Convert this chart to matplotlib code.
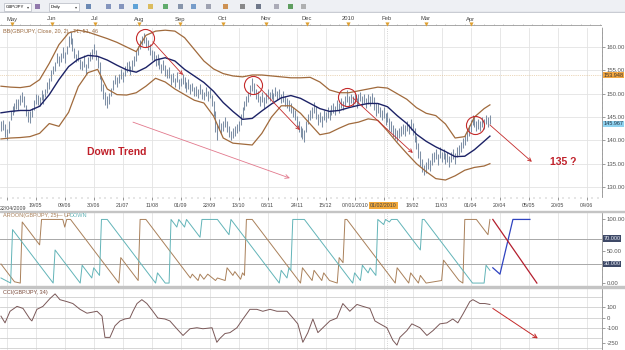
import matplotlib.pyplot as plt
from matplotlib.patches import Rectangle

plt.rcParams['font.family'] = ['Liberation Sans', 'DejaVu Sans']

# ---- values (x = bar number, 0 = first daily bar) ----
highs = [
    144.2, 144.3, 143.5, 142.5, 144.2, 146.3, 147.4, 148.1, 148.9, 148.8,
    149.7, 150.3, 149.5, 147.5, 146.2, 146.3, 146.9, 148.6, 149.9, 149.8,
    149.2, 150.8, 149.9, 151.1, 152.4, 153.3, 155.1, 156.0, 156.7, 158.8,
    158.1, 158.8, 159.9, 159.0, 160.2, 162.3, 163.3, 161.9, 159.8, 158.6,
    159.3, 157.4, 157.1, 158.2, 156.3, 157.8, 158.9, 159.6, 160.6, 159.3,
    158.1, 156.8, 153.7, 152.1, 150.3, 149.6, 150.2, 151.3, 153.0, 154.1,
    153.6, 154.3, 155.2, 154.6, 155.9, 156.8, 157.1, 156.0, 157.3, 158.0,
    159.2, 160.3, 161.6, 162.4, 163.1, 162.2, 161.4, 160.6, 159.4, 159.1,
    158.2, 158.4, 157.6, 156.4, 157.2, 156.1, 155.3, 155.7, 154.2, 154.4,
    153.4, 154.6, 153.1, 153.3, 154.2, 153.5, 152.4, 153.1, 152.0, 152.3,
    151.4, 151.6, 151.0, 152.0, 151.1, 150.3, 151.5, 150.5, 150.9, 149.7,
    148.5, 146.2, 143.5, 144.6, 143.8, 144.1, 145.0, 144.2, 143.1, 142.0,
    142.6, 143.1, 143.4, 144.2, 145.6, 147.1, 148.4, 149.6, 150.4, 151.8,
    153.4, 152.3, 151.0, 150.6, 149.6, 150.4, 149.2, 150.1, 151.0, 150.4,
    151.0, 150.1, 151.4, 150.6, 151.1, 150.0, 150.5, 149.6, 149.0, 148.6,
    148.1, 147.2, 146.4, 145.3, 144.2, 143.1, 142.6, 142.3, 144.2, 145.6,
    146.6, 147.2, 148.2, 147.3, 145.6, 146.0, 145.2, 146.5, 146.1, 147.1,
    146.5, 147.6, 148.1, 147.4, 148.6, 148.0, 149.1, 148.4, 149.6, 150.8,
    149.6, 150.0, 149.5, 150.1, 149.1, 150.0, 150.4, 149.6, 150.0, 149.1,
    150.0, 149.6, 150.1, 149.2, 147.9, 148.1, 147.2, 146.6, 147.1, 145.8,
    146.1, 144.8, 144.1, 143.2, 142.6, 142.3, 142.6, 143.1, 143.6, 143.2,
    144.1, 143.6, 144.6, 143.7, 142.6, 141.0, 139.4, 137.8, 136.0, 134.8,
    135.3, 136.2, 135.7, 137.2, 137.6, 138.2, 137.1, 138.6, 137.6, 138.1,
    137.2, 137.5, 136.7, 137.6, 138.1, 137.2, 138.6, 139.1, 139.7, 140.6,
    141.2, 142.1, 143.2, 144.3, 145.5, 145.2, 144.1, 144.6, 144.1, 145.1,
    144.6, 145.4, 145.1, 145.5,
]
lows = [
    142.1, 142.2, 140.8, 140.0, 141.5, 144.3, 145.4, 146.0, 146.7, 146.6,
    147.6, 148.2, 147.2, 145.3, 144.0, 143.8, 145.0, 146.4, 147.7, 147.6,
    147.4, 148.6, 147.8, 149.3, 150.2, 151.0, 152.8, 154.2, 154.8, 156.5,
    155.9, 156.7, 157.6, 156.6, 158.4, 160.1, 160.6, 159.2, 157.6, 156.8,
    157.1, 155.2, 155.0, 155.8, 154.3, 155.6, 156.9, 157.4, 158.6, 157.3,
    155.4, 153.2, 150.6, 148.9, 147.6, 147.0, 147.7, 149.4, 150.8, 152.0,
    151.4, 152.2, 153.1, 152.4, 153.8, 154.6, 154.8, 154.1, 155.0, 155.9,
    157.1, 158.2, 159.5, 160.4, 160.8, 159.9, 159.3, 158.2, 157.3, 156.9,
    156.0, 156.2, 155.3, 154.4, 155.1, 153.8, 153.4, 153.3, 151.9, 152.5,
    151.4, 152.4, 150.9, 151.6, 152.0, 151.3, 150.4, 151.0, 149.9, 150.6,
    149.6, 149.5, 149.1, 150.0, 148.8, 148.6, 149.5, 148.4, 149.0, 147.4,
    145.2, 141.8, 140.0, 142.3, 141.3, 142.0, 142.8, 141.7, 140.8, 140.0,
    140.4, 141.0, 141.5, 142.0, 143.2, 144.8, 146.4, 147.4, 148.3, 149.4,
    150.6, 149.9, 148.9, 148.3, 147.4, 148.3, 147.0, 147.9, 148.9, 148.4,
    148.9, 147.9, 149.4, 148.6, 149.0, 148.0, 148.3, 147.4, 146.9, 146.3,
    145.9, 144.9, 144.3, 142.8, 141.8, 140.8, 140.2, 139.6, 141.7, 143.4,
    144.4, 144.8, 145.9, 144.6, 143.2, 143.9, 142.9, 144.3, 143.9, 144.8,
    144.4, 145.5, 145.9, 145.4, 146.5, 145.9, 146.9, 146.5, 147.4, 148.3,
    147.4, 147.9, 147.4, 148.0, 146.9, 147.8, 148.4, 147.4, 147.9, 146.9,
    147.8, 147.4, 147.9, 146.4, 145.3, 145.8, 144.9, 144.3, 144.8, 143.3,
    143.9, 142.3, 141.8, 140.7, 140.3, 139.8, 140.4, 140.9, 141.4, 140.9,
    141.9, 141.4, 142.3, 141.2, 139.7, 138.2, 136.3, 134.6, 133.2, 132.5,
    132.9, 133.8, 133.4, 134.7, 135.3, 135.9, 134.8, 136.3, 135.4, 135.9,
    134.9, 135.4, 134.3, 135.4, 135.9, 134.9, 136.4, 136.9, 137.4, 138.4,
    138.9, 139.9, 140.9, 141.8, 143.2, 142.8, 141.9, 142.4, 141.9, 142.9,
    142.4, 143.4, 142.9, 143.5,
]

# Bollinger band (20, 2) read every 5 bars
bb_x = list(range(0, 251, 5)) + [253]
bb_upper = [151.6, 151.4, 151.3, 151.6, 153.0, 156.5, 160.5, 163.0, 163.6, 163.2,
            162.5, 161.8, 161.0, 160.0, 159.0, 162.5, 163.4, 163.6, 163.4, 162.0,
            159.5, 157.0, 155.3, 154.3, 153.8, 153.6, 154.0, 154.0, 153.8, 153.6,
            153.4, 153.4, 153.5, 152.5, 150.8, 150.2, 150.2, 150.6, 151.0, 151.4,
            151.2, 150.0, 148.8, 147.0, 145.8, 145.3, 143.5, 140.5, 140.8, 145.0,
            146.8, 147.6]
bb_middle = [145.9, 146.2, 146.4, 146.4, 147.3, 149.8, 153.0, 155.8, 157.4, 158.2,
             158.0, 157.2, 156.1, 155.1, 154.6, 155.6, 157.2, 157.7, 157.0, 155.2,
             153.8, 152.4, 150.5, 148.1, 146.2, 144.5, 144.7, 146.3, 147.8, 149.1,
             149.6, 149.0, 147.9, 146.8, 146.2, 146.4, 147.0, 147.5, 147.9, 147.9,
             147.2, 145.3, 143.6, 141.3, 139.8, 138.6, 137.6, 136.5, 136.6, 138.0,
             139.8, 140.9]
bb_lower = [140.3, 140.5, 140.6, 140.8, 141.5, 143.6, 143.0, 146.0, 151.5, 154.5,
            155.2, 151.0, 149.8, 149.7, 150.2, 151.6, 153.3, 152.5, 151.0, 149.8,
            148.6, 148.0, 145.2, 140.5, 139.4, 139.2, 139.0, 141.5, 145.0, 147.4,
            147.4, 145.8, 143.5, 141.2, 141.6, 142.6, 143.5, 143.9, 144.6, 144.3,
            142.0, 139.5, 137.2, 135.0, 133.3, 131.8, 131.5, 132.4, 133.6, 134.2,
            134.5, 135.0]

# Aroon(25) turning points
aroon_up_x = [0, 7, 10, 11, 20, 21, 32, 33, 34, 36, 61, 62, 71, 72, 75, 98, 99, 102, 103,
              105, 107, 111, 112, 116, 117, 120, 121, 124, 125, 126, 127, 130, 155, 156,
              161, 162, 166, 167, 170, 174, 175, 177, 178, 179, 204, 205, 211, 212, 216,
              217, 220, 228, 229, 237, 239, 240, 246, 252, 253]
aroon_up_y = [30, 2, 0, 96, 60, 100, 100, 88, 100, 100, 0, 40, 4, 100, 100, 8, 14, 4, 14,
              6, 14, 4, 8, 4, 24, 12, 18, 6, 16, 12, 100, 100, 0, 24,
              4, 20, 4, 16, 4, 0, 40, 32, 100, 100, 0, 24, 0, 16, 0,
              12, 0, 4, 36, 4, 0, 100, 100, 76, 100]
aroon_dn_x = [0, 5, 6, 27, 28, 41, 42, 47, 48, 51, 52, 55, 80, 81, 85, 87, 88, 91, 92, 95,
              96, 103, 104, 112, 118, 119, 144, 145, 148, 149, 150, 151, 157, 182, 183,
              186, 187, 190, 191, 194, 195, 198, 199, 201, 202, 205, 217, 218, 219, 244,
              250, 251, 253]
aroon_dn_y = [8, 0, 84, 0, 52, 0, 28, 8, 24, 12, 100, 100, 0, 16, 0, 0, 100, 88, 100, 88,
              100, 72, 100, 100, 76, 100, 0, 20, 8, 24, 20, 100, 100, 0, 16,
              4, 28, 16, 24, 12, 100, 92, 100, 96, 100, 100, 52, 100, 100, 0,
              0, 28, 20]

# CCI(34)
cci_x = [0, 2.1, 4.7, 8.3, 11.4, 15, 16, 18.6, 21.7, 25.3, 28, 30.5, 34.1, 37.2, 40.9,
         44.5, 49.7, 52.3, 53.8, 56.4, 59, 61.6, 64.1, 66.7, 68.3, 70.4, 72.9, 75.5,
         78.6, 81.2, 84.8, 87.4, 91, 94.2, 97.8, 101.4, 104.5, 109.2, 111.7, 113.3,
         115.9, 118.5, 122.1, 125.2, 128.8, 132.4, 135.5, 139.2, 142.8, 148, 151.1,
         153.6, 156.2, 158.8, 161.4, 164, 167.6, 170.2, 173.8, 176.9, 180.5, 184.2,
         187.3, 190.9, 193.5, 196.1, 199.7, 202.8, 204.9, 206.4, 210, 212.6, 216.8,
         220.4, 223.5, 227.1, 230.7, 233.8, 236.4, 239, 242.6, 244.2, 247.8, 250.4, 253]
cci_y = [14, -52, 62, 110, 90, -14, -33, 81, 110, 186, 233, 176, 157, 138, 81,
         43, 62, 14, -195, -195, -81, -33, -14, -5, 62, 138, 176, 138,
         62, -5, -14, -33, -110, -176, -110, -100, -110, -100, -243, -205,
         -157, -148, -100, -14, 81, 81, 62, 81, 62, 62, -5,
         -62, -243, -148, -14, -148, -81, -33, -5, 138, 62, 129,
         110, 90, -33, -62, -100, -224, -271, -195, -129, -62, -100,
         -176, -129, -62, -52, -14, -52, 33, 157, 176, 138, 138, 129]

date_labels = ['22/04/2009', '19/05', '09/06', '30/06', '21/07', '11/08', '01/09', '22/09',
               '13/10', '03/11', '24/11', '15/12', '07/01/2010', '01/02/2010', '18/02',
               '11/03', '01/04', '20/04', '05/05', '20/05', '04/06']
month_labels = ['May', 'Jun', 'Jul', 'Aug', 'Sep', 'Oct', 'Nov', 'Dec', '2010', 'Feb', 'Mar', 'Apr']
month_pos = [5.7, 26.4, 48.6, 71.4, 92.6, 114.8, 137.1, 158.3, 179.5, 199.7, 219.9, 243.2]

# hand-drawn marks on the screenshot
circles_x = [74.5, 130.4, 179.0, 245.2]
circles_y = [161.9, 151.9, 149.3, 143.3]
drop_arrows = [(78.6, 161.1, 94.2, 154.0), (132.4, 151.9, 154.7, 142.2),
               (182.1, 149.1, 213.1, 137.3), (253.0, 143.3, 274.7, 135.4)]
trend_arrow = (68.3, 143.9, 149.5, 131.9)
proj_up_x, proj_up_y = [254.5, 258.2, 264.9, 273.7], [24, 14, 100, 100]
proj_dn_x, proj_dn_y = [254.5, 277.3], [100, 0]
cci_arrow = (254.5, 90, 277.8, -205)

# ---- layout (pixel boxes of the 625x350 screenshot) ----
W, H = 625, 350
RIGHT = 602
XLIM = (-0.5, 311)
GRID = '#e3e3e3'
date_ticks = [3 + 15 * k for k in range(len(date_labels))]
cursor_x = 199.7

fig = plt.figure(figsize=(W / 100, H / 100), dpi=100)
fig.patch.set_facecolor('white')


def rect(x0, y0, x1, y1):
    return [x0 / W, 1 - y1 / H, (x1 - x0) / W, (y1 - y0) / H]


def ftext(x, y, s, **kw):
    fig.text(x / W, 1 - y / H, s, **kw)


def style_panel(a):
    a.set_xlim(XLIM)
    a.set_facecolor('white')
    for side in ['top', 'left', 'bottom']:
        a.spines[side].set_visible(False)
    a.spines['right'].set_color('#909090')
    a.spines['right'].set_linewidth(0.6)
    a.yaxis.tick_right()
    a.tick_params(axis='y', labelsize=4.3, length=2, width=0.4, pad=1.5, colors='#555555')
    a.tick_params(axis='y', which='minor', length=1, width=0.3, colors='#777777')
    for t in date_ticks:
        a.axvline(t, color=GRID, lw=0.6, zorder=0)
    a.axvline(cursor_x, color='#c8c8c8', lw=0.6, ls=':', zorder=0)


# toolbar
tb = fig.add_axes(rect(0, 0, W, 13))
tb.set_xlim(0, W)
tb.set_ylim(13, 0)
tb.axis('off')
tb.add_patch(Rectangle((0, 0), W, 13, color='#eef0f4'))
tb.add_patch(Rectangle((0, 12.4), W, 0.6, color='#c9ccd3'))
tb.add_patch(Rectangle((4, 2.5), 27, 8, fc='white', ec='#b5b9c2', lw=0.5))
tb.text(6, 6.7, 'GBP/JPY', fontsize=3.2, va='center')
tb.text(27, 6.7, '▾', fontsize=3, va='center', color='#444444')
tb.add_patch(Rectangle((49, 2.5), 30, 8, fc='white', ec='#b5b9c2', lw=0.5))
tb.text(51, 6.7, 'Daily', fontsize=3.2, va='center')
tb.text(75, 6.7, '▾', fontsize=3, va='center', color='#444444')
icon_x = [37, 88, 108, 121, 135, 150, 165, 180, 193, 208, 225, 242, 258, 276, 290, 303]
icon_c = ['#7a5c9a', '#4a6fa5', '#6a7fb0', '#6a7fb0', '#3a8fd0', '#d7b03a', '#3c9a4a', '#6d7f99',
          '#5a88c0', '#8a8fa0', '#c57a2a', '#707070', '#505a70', '#9a9aa8', '#3b8a3b', '#a0a0a0']
for x, c in zip(icon_x, icon_c):
    tb.add_patch(Rectangle((x - 2.5, 4), 5, 5, fc=c, ec='none', alpha=0.8))

# month strip
ms = fig.add_axes(rect(0, 13, RIGHT, 28))
ms.set_xlim(XLIM)
ms.set_ylim(15, 0)
ms.axis('off')
ms.axhline(12, color='#9a9a9a', lw=0.6)
ms.vlines(range(0, 311, 5), 10.5, 12, color='#9a9a9a', lw=0.4)
ms.plot(month_pos, [11] * len(month_pos), 'v', color='#e0a030', ms=3, mec='none')
for x, s in zip(month_pos, month_labels):
    ms.text(x, 6, s, fontsize=4.2, ha='center', va='center', color='#444444')

# main price panel
ax = fig.add_axes(rect(0, 28, RIGHT, 197))
style_panel(ax)
ax.set_ylim(127.86, 164.07)
price_ticks = [130, 135, 140, 145, 150, 155, 160]
for p in price_ticks:
    ax.axhline(p, color=GRID, lw=0.6, zorder=0)
ax.set_yticks(price_ticks)
ax.set_yticklabels(['%.2f' % p for p in price_ticks])
ax.set_yticks(range(128, 165), minor=True)
ax.set_xticks(date_ticks)
# first date label sits flush with the left edge, as in the screenshot
ax.set_xticklabels([''] + date_labels[1:])
ax.set_xticks(range(0, 311, 3), minor=True)
ax.tick_params(axis='x', labelsize=3.8, length=2.5, width=0.4, pad=1.8, colors='#444444')
ax.tick_params(axis='x', which='minor', length=1.3, width=0.3, colors='#888888')
for lbl in ax.get_xticklabels():
    if lbl.get_text() == '01/02/2010':
        lbl.set_bbox(dict(facecolor='#f2a83a', edgecolor='none', pad=0.6))
ax.text(0.0, -0.055, date_labels[0], transform=ax.transAxes, fontsize=3.8,
        color='#444444', ha='left', va='top')

ax.vlines(range(len(highs)), lows, highs, color='#7d8fa5', lw=0.75, zorder=2)
ax.plot(bb_x, bb_upper, color='#a06a3c', lw=0.9, zorder=3)
ax.plot(bb_x, bb_lower, color='#a06a3c', lw=0.9, zorder=3)
ax.plot(bb_x, bb_middle, color='#1c2266', lw=1.0, zorder=3)
ax.axhline(153.948, color='#d9b27a', lw=0.5, ls=':', zorder=1)

red = '#c42a2a'
ax.plot(circles_x, circles_y, 'o', mfc='none', mec=red, mew=0.8, ms=13, zorder=4)
for x0, y0, x1, y1 in drop_arrows:
    ax.annotate('', xy=(x1, y1), xytext=(x0, y0),
                arrowprops=dict(arrowstyle='->', color=red, lw=0.6, shrinkA=0, shrinkB=0,
                                mutation_scale=6), zorder=4)
x0, y0, x1, y1 = trend_arrow
ax.annotate('', xy=(x1, y1), xytext=(x0, y0),
            arrowprops=dict(arrowstyle='->', color='#e2788c', lw=0.6, shrinkA=0, shrinkB=0,
                            mutation_scale=7))
ax.text(60, 137.6, 'Down Trend', color='#c0202a', fontsize=7.5, fontweight='bold',
        ha='center', va='center')
ax.text(284, 135.4, '135 ?', color='#c0202a', fontsize=7.5, fontweight='bold',
        ha='left', va='center')

ty = ax.get_yaxis_transform()
ax.text(1.003, 153.948, '153.948', transform=ty, fontsize=4, va='center', ha='left',
        color='#333333', bbox=dict(facecolor='#f4a842', edgecolor='none', pad=0.4))
ax.text(1.003, 143.55, '145.967', transform=ty, fontsize=4, va='center', ha='left',
        color='#223344', bbox=dict(facecolor='#8fd3f0', edgecolor='none', pad=0.4))
ftext(3, 31, 'BB(GBP/JPY, Close, 20, 2) - TL, 51, 46', fontsize=4, color='#9a6a40',
      va='center')

# separators
fig.add_artist(Rectangle((0, 1 - 212 / H), 1, 1.2 / H, transform=fig.transFigure,
                         color='#c4c4c4'))
fig.add_artist(Rectangle((0, 1 - 288 / H), 1, 1.6 / H, transform=fig.transFigure,
                         color='#c4c4c4'))

# Aroon panel
aa = fig.add_axes(rect(0, 212.5, RIGHT, 286.5))
style_panel(aa)
aa.set_ylim(-5.4, 110.9)
aa.axhline(70, color='#a8a8a8', lw=0.7, zorder=0)
aa.axhline(30, color='#a8a8a8', lw=0.7, zorder=0)
aa.set_yticks([0, 50, 100])
aa.set_yticklabels(['0.00', '50.00', '100.00'])
aa.set_yticks(range(0, 101, 10), minor=True)
aa.set_xticks([])
aa.plot(aroon_up_x, aroon_up_y, color='#a9805a', lw=0.7)
aa.plot(aroon_dn_x, aroon_dn_y, color='#62b4b8', lw=0.7)
aa.plot(proj_up_x, proj_up_y, color='#2f43c0', lw=0.9)
aa.plot(proj_dn_x, proj_dn_y, color='#b41f2e', lw=0.9)
ta = aa.get_yaxis_transform()
for v in [70, 30]:
    aa.text(1.003, v, '%d.000' % v, transform=ta, fontsize=4, va='center', ha='left',
            color='#e8ecf5', bbox=dict(facecolor='#3d4866', edgecolor='none', pad=0.4))
ftext(3, 215.5, 'AROON(GBP/JPY, 25)', fontsize=4, color='#a9805a', va='center')
ftext(57, 215.5, '—', fontsize=4, color='#a9805a', va='center')
ftext(64, 215.5, 'UP', fontsize=4, color='#a9805a', va='center')
ftext(70, 215.5, 'DOWN', fontsize=4, color='#62b4b8', va='center')

# CCI panel
ac = fig.add_axes(rect(0, 289, RIGHT, 350))
style_panel(ac)
ac.set_ylim(-319, 281)
for v in [200, 100, 0, -100, -200, -300]:
    ac.axhline(v, color='#cfcfcf', lw=0.6, zorder=0)
ac.set_yticks([100, 0, -100, -250])
ac.set_yticklabels(['100', '0', '-100', '-250'])
ac.set_yticks(range(-300, 281, 50), minor=True)
ac.set_xticks([])
ac.plot(cci_x, cci_y, color='#7a5858', lw=0.7)
x0, y0, x1, y1 = cci_arrow
ac.annotate('', xy=(x1, y1), xytext=(x0, y0),
            arrowprops=dict(arrowstyle='->', color=red, lw=0.7, shrinkA=0, shrinkB=0,
                            mutation_scale=7))
ftext(3, 292.5, 'CCI(GBP/JPY, 34)', fontsize=4, color='#7a4a3a', va='center')

fig.savefig('out.png', dpi=100)
